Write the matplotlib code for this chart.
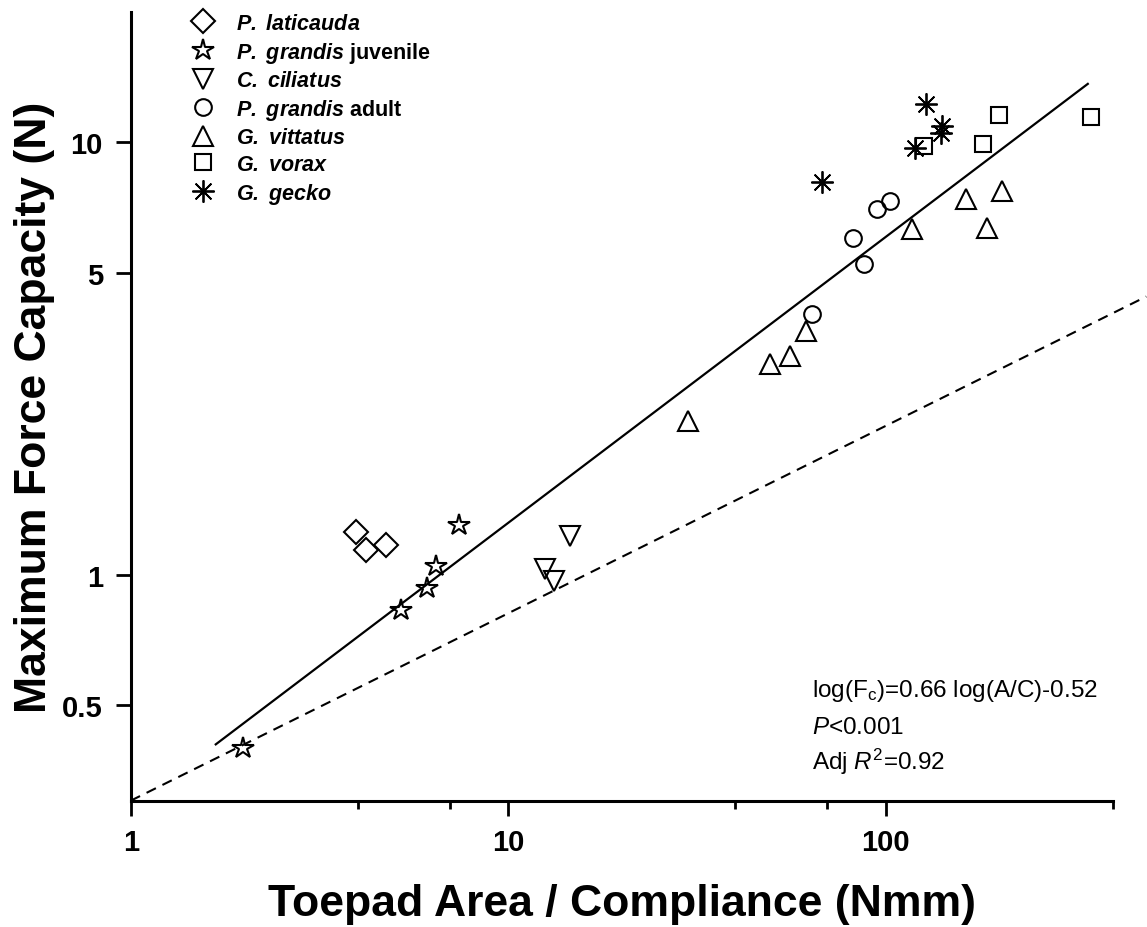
import matplotlib
matplotlib.use("Agg")
from matplotlib import pyplot as plt

plt.rcParams['font.family'] = ['Liberation Sans', 'DejaVu Sans']
plt.rcParams['mathtext.fontset'] = 'custom'
plt.rcParams['mathtext.rm'] = 'Liberation Sans'
plt.rcParams['mathtext.it'] = 'Liberation Sans:italic'
plt.rcParams['mathtext.bf'] = 'Liberation Sans:bold'
plt.rcParams['mathtext.bfit'] = 'Liberation Sans:bold:italic'

# data (toepad area / compliance, max force capacity)
laticauda_x = [3.95, 4.2, 4.74]
laticauda_y = [1.256, 1.14, 1.17]

grandis_juv_x = [1.98, 5.2, 6.08, 6.43, 7.39]
grandis_juv_y = [0.397, 0.828, 0.93, 1.05, 1.30]

ciliatus_x = [12.5, 13.2, 14.6]
ciliatus_y = [1.03, 0.967, 1.23]

grandis_ad_x = [63.7, 82.1, 87.6, 95.0, 102.4]
grandis_ad_y = [4.0, 6.01, 5.24, 7.01, 7.31]

vittatus_x = [29.9, 49.3, 55.7, 61.6, 117.1, 163.5, 185.8, 203.5]
vittatus_y = [2.27, 3.07, 3.20, 3.67, 6.32, 7.38, 6.35, 7.73]

vorax_x = [126, 180.9, 199.4, 350]
vorax_y = [9.82, 9.92, 11.6, 11.47]

gecko_x = [67.7, 119.3, 127.5, 139.8, 141.2]
gecko_y = [8.11, 9.72, 12.3, 10.5, 10.9]

fit_x = [1.68, 343]
fit_y = [0.405, 13.66]

ref_x = [1, 490]
ref_y = [0.3, 4.4]

x_ticks = [1, 10, 100]
x_minor = [4, 7, 40, 70, 400]
y_ticks = [0.5, 1, 5, 10]
y_ticklabels = ['0.5', '1', '5', '10']

stats_lines = [r'log(F$_\mathrm{c}$)=0.66 log(A/C)-0.52',
               r'$\mathit{P}$<0.001',
               r'Adj $\mathit{R}^2$=0.92']

W, H = 1147, 928
fig = plt.figure(figsize=(W / 100, H / 100), dpi=100)
ax = fig.add_axes([130.7 / W, 126.3 / H, (1113 - 130.7) / W, (914.7 - 126.3) / H])

ax.set_xscale('log')
ax.set_yscale('log')

ax.plot(fit_x, fit_y, color='black', lw=1.6)
ax.plot(ref_x, ref_y, color='black', lw=1.5, dashes=(5, 3.5), clip_on=False)

style = dict(linestyle='none', mfc='none', mec='black', color='black')
ax.plot(laticauda_x, laticauda_y, marker='D', ms=12, mew=1.5,
        label=r'$\mathbfit{P.}$ $\mathbfit{laticauda}$', **style)
ax.plot(grandis_juv_x, grandis_juv_y, marker='*', ms=16, mew=1.5,
        label=r'$\mathbfit{P.}$ $\mathbfit{grandis}$ juvenile', **style)
ax.plot(ciliatus_x, ciliatus_y, marker='v', ms=14, mew=1.5,
        label=r'$\mathbfit{C.}$ $\mathbfit{ciliatus}$', **style)
ax.plot(grandis_ad_x, grandis_ad_y, marker='o', ms=12, mew=1.5,
        label=r'$\mathbfit{P.}$ $\mathbfit{grandis}$ adult', **style)
ax.plot(vittatus_x, vittatus_y, marker='^', ms=14, mew=1.5,
        label=r'$\mathbfit{G.}$ $\mathbfit{vittatus}$', **style)
ax.plot(vorax_x, vorax_y, marker='s', ms=11, mew=1.5,
        label=r'$\mathbfit{G.}$ $\mathbfit{vorax}$', **style)
ax.plot(gecko_x, gecko_y, marker=(8, 2, 0), ms=16, mew=1.3,
        label=r'$\mathbfit{G.}$ $\mathbfit{gecko}$', **style)

ax.set_xlim(1, 400)
ax.set_ylim(0.3, 20)

ax.set_xticks(x_ticks)
ax.set_xticklabels([str(v) for v in x_ticks])
ax.set_xticks(x_minor, minor=True)
ax.set_xticklabels([], minor=True)
ax.set_yticks(y_ticks)
ax.set_yticklabels(y_ticklabels)
ax.set_yticks([], minor=True)

for s in ['top', 'right']:
    ax.spines[s].set_visible(False)
for s in ['left', 'bottom']:
    ax.spines[s].set_linewidth(2.2)

ax.tick_params(which='major', direction='out', length=11, width=2, labelsize=21, pad=9)
ax.tick_params(which='minor', direction='out', length=6, width=2)
for lab in ax.get_xticklabels() + ax.get_yticklabels():
    lab.set_fontweight('bold')

ax.set_xlabel('Toepad Area / Compliance (Nmm)', fontsize=32, fontweight='bold', labelpad=19)
ax.set_ylabel('Maximum Force Capacity (N)', fontsize=32, fontweight='bold', labelpad=5)

ax.legend(loc='upper left', bbox_to_anchor=(0.054, 1.01), frameon=False,
          prop={'weight': 'bold', 'size': 15.5}, handlelength=1.0,
          handletextpad=1.05, labelspacing=0.26, borderaxespad=0, numpoints=1)

# regression stats, baselines in pixels from the top
for txt, base in zip(stats_lines, [697, 734, 770]):
    fig.text(811.7 / W, 1 - base / H, txt, fontsize=17.5, va='baseline', ha='left')

fig.savefig('out.png', dpi=100)
